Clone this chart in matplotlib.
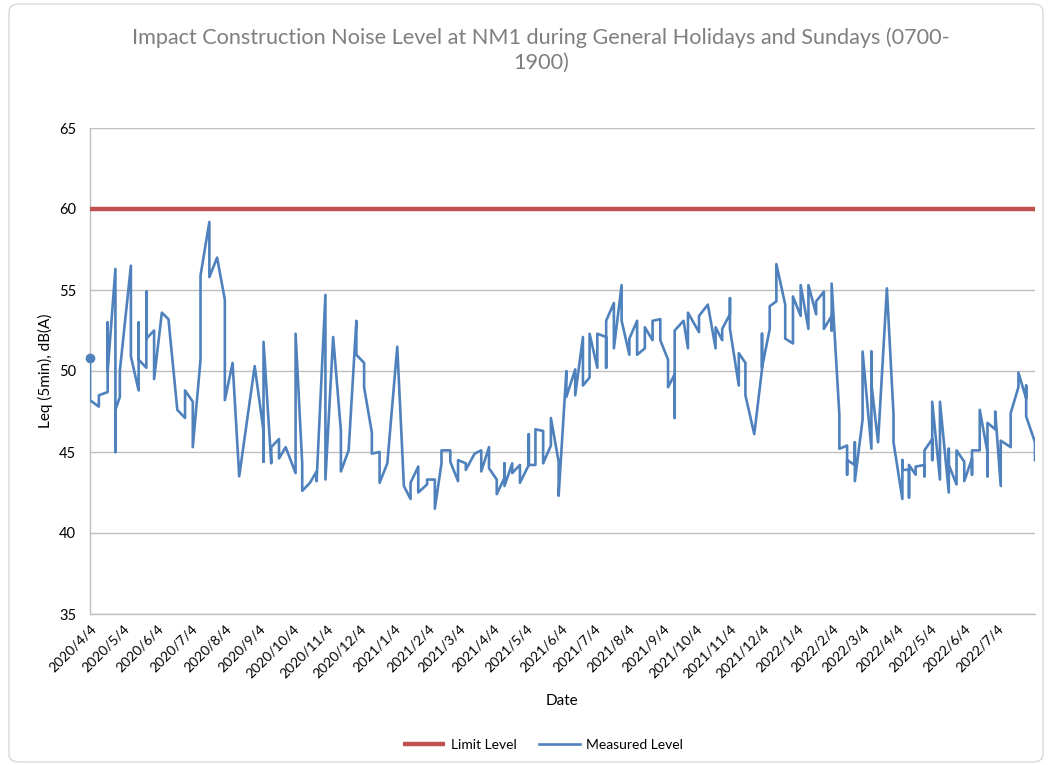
import matplotlib
matplotlib.use("Agg")
import matplotlib.pyplot as plt
from matplotlib.patches import FancyBboxPatch
import pandas as pd

plt.rcParams['font.family'] = ['Lato', 'DejaVu Sans']

title_text = "Impact Construction Noise Level at NM1 during General Holidays and Sundays (0700-\n1900)"
y_label = "Leq (5min), dB(A)"
x_label = "Date"
limit_label = "Limit Level"
measured_label = "Measured Level"
limit_level = 60
y_ticks = [35, 40, 45, 50, 55, 60, 65]

# Measurement dates; each date may have several readings (drawn as vertical steps)
dates = [
    "2020-04-04", "2020-04-12", "2020-04-20", "2020-04-27", "2020-05-01", "2020-05-11",
    "2020-05-18", "2020-05-25", "2020-06-01", "2020-06-08", "2020-06-14", "2020-06-22",
    "2020-06-29", "2020-07-06", "2020-07-13", "2020-07-21", "2020-07-28", "2020-08-04",
    "2020-08-11", "2020-08-17", "2020-08-31", "2020-09-08", "2020-09-15", "2020-09-22",
    "2020-09-28", "2020-10-07", "2020-10-13", "2020-10-20", "2020-10-26", "2020-11-03",
    "2020-11-10", "2020-11-17", "2020-11-24", "2020-12-01", "2020-12-08", "2020-12-15",
    "2020-12-22", "2020-12-29", "2021-01-07", "2021-01-13", "2021-01-19", "2021-01-26",
    "2021-02-03", "2021-02-10", "2021-02-16", "2021-02-24", "2021-03-03", "2021-03-10",
    "2021-03-18", "2021-03-24", "2021-03-31", "2021-04-07", "2021-04-14", "2021-04-21",
    "2021-04-28", "2021-05-06", "2021-05-12", "2021-05-19", "2021-05-26", "2021-06-02",
    "2021-06-09", "2021-06-17", "2021-06-24", "2021-06-30", "2021-07-07", "2021-07-15",
    "2021-07-22", "2021-07-29", "2021-08-05", "2021-08-12", "2021-08-19", "2021-08-26",
    "2021-09-02", "2021-09-09", "2021-09-15", "2021-09-23", "2021-09-27", "2021-10-07",
    "2021-10-15", "2021-10-22", "2021-10-28", "2021-11-04", "2021-11-12", "2021-11-18",
    "2021-11-26", "2021-12-03", "2021-12-10", "2021-12-16", "2021-12-24", "2021-12-31",
    "2022-01-07", "2022-01-14", "2022-01-21", "2022-01-28", "2022-02-04", "2022-02-11",
    "2022-02-18", "2022-02-25", "2022-03-04", "2022-03-12", "2022-03-18", "2022-03-26",
    "2022-04-01", "2022-04-09", "2022-04-15", "2022-04-21", "2022-04-29", "2022-05-06",
    "2022-05-13", "2022-05-21", "2022-05-28", "2022-06-04", "2022-06-11", "2022-06-18",
    "2022-06-25", "2022-07-02", "2022-07-07", "2022-07-16", "2022-07-23", "2022-07-30",
    "2022-08-07",
]

levels = [
    [50.8, 48.2], [47.8, 48.5], [48.7, 53.0, 50.0], [56.3, 45.0, 47.6], [48.4, 50.0], [56.5, 50.9],
    [48.8, 53.0, 50.7], [50.2, 54.9, 52.0], [52.5, 49.5], [53.6], [53.2], [47.6],
    [47.1, 48.8], [48.1, 45.3], [50.7, 55.9], [59.2, 55.8], [57.0], [54.4, 48.2],
    [50.5], [43.5], [50.3], [46.3, 44.4, 51.8], [44.3, 45.3], [45.8, 44.6],
    [45.3], [43.7, 52.3], [44.3, 42.6], [43.1], [43.8, 43.2], [54.7, 43.3],
    [52.1], [46.3, 43.8], [45.1], [53.1, 51.0], [50.5, 49.0], [46.2, 44.9],
    [45.0, 43.1], [44.3], [51.5], [42.9], [42.1, 43.1], [44.1, 42.5],
    [43.0, 43.3], [43.3, 41.5], [44.3, 45.1], [45.1, 44.4], [43.2, 44.5], [44.3, 43.9],
    [44.9], [45.1, 43.8], [45.3, 44.0], [43.3, 42.4], [43.4, 44.3, 42.9], [44.3, 43.7],
    [44.2, 43.1], [44.2, 46.1, 44.2], [44.2, 46.4], [46.3, 44.3], [45.4, 47.1], [44.4, 42.3],
    [50.0, 48.4], [50.1, 48.5], [52.1, 49.1], [49.6, 52.3], [50.2, 52.3], [52.1, 50.2, 53.1],
    [54.2, 51.4], [55.3, 53.1], [51.0, 52.0], [53.1, 51.0], [51.4, 52.7], [51.9, 53.1],
    [53.2, 51.9], [50.7, 49.0], [49.8, 47.1, 52.5], [53.1], [51.4, 53.6], [52.4, 53.4],
    [54.1], [51.4, 52.7], [51.9, 52.6], [53.5, 54.5, 52.6], [49.1, 51.1], [50.5, 48.5],
    [46.1], [50.1, 52.3, 50.2], [52.6, 54.0], [54.3, 56.6], [54.1, 52.0], [51.7, 54.6],
    [53.4, 55.3], [52.6, 55.3], [53.5, 54.3], [54.9, 52.6], [53.4, 52.5, 55.4], [47.3, 45.2],
    [45.4, 43.6, 44.5], [44.2, 45.6, 43.2], [47.0, 51.2], [45.2, 51.2, 49.2], [45.6], [55.1],
    [47.3, 45.6], [42.1, 44.5, 43.9], [43.9, 42.2, 44.2], [43.6, 44.1], [44.2, 43.5, 45.1], [45.8, 44.5, 48.1],
    [43.3, 48.1], [42.5, 45.2, 44.2], [43.0, 45.1], [44.4, 43.2], [44.6, 43.6, 45.1], [45.1, 47.6],
    [45.0, 43.5, 46.8], [46.4, 47.5], [42.9, 45.7], [45.3, 47.4], [49.0, 49.9], [48.3, 49.1, 47.2],
    [45.6, 44.5],
]

x_start = "2020-04-04"
x_end = "2022-08-07"
tick_start = "2020-04-04"
tick_end = "2022-07-04"

# flatten
flat_dates = []
flat_levels = []
for d, vals in zip(dates, levels):
    for v in vals:
        flat_dates.append(pd.Timestamp(d))
        flat_levels.append(v)

fig = plt.figure(figsize=(10.49, 7.65), dpi=100)
ax = fig.add_axes([90/1049, 1 - 614/765, (1035 - 90)/1049, (614 - 128)/765])

red = "#C0504D"
blue = "#4F81BD"
grid_c = "#BFBFBF"

xs = [pd.Timestamp(x_start), pd.Timestamp(x_end)]
ax.plot(xs, [limit_level, limit_level], color=red, lw=3.2, solid_capstyle='butt', label=limit_label, zorder=3)
ax.plot(flat_dates, flat_levels, color=blue, lw=1.9, label=measured_label, zorder=4)
ax.plot(flat_dates[:1], flat_levels[:1], marker='o', ms=6, color=blue, zorder=5, clip_on=False)

ax.set_xlim(pd.Timestamp(x_start), pd.Timestamp(x_end))
ax.set_ylim(35, 65)
ax.set_yticks(y_ticks)
ticks = pd.date_range(tick_start, tick_end, freq=pd.DateOffset(months=1))
ax.set_xticks(ticks)
ax.set_xticklabels([f"{t.year}/{t.month}/{t.day}" for t in ticks], rotation=45,
                   ha='right', va='top', rotation_mode='anchor', fontsize=10, color='black')
ax.tick_params(axis='x', length=0, pad=6)
ax.tick_params(axis='y', length=0, pad=10, labelsize=10.5, labelcolor='black')

ax.grid(axis='y', color=grid_c, lw=1)
ax.set_axisbelow(True)
for s in ['top', 'right']:
    ax.spines[s].set_visible(False)
ax.spines['left'].set_color(grid_c)
ax.spines['bottom'].set_color(grid_c)
ax.spines['left'].set_linewidth(1)
ax.spines['bottom'].set_linewidth(1)

ax.set_ylabel(y_label, fontsize=11, color='black')
ax.set_xlabel(x_label, fontsize=11, color='black')
ax.xaxis.set_label_coords((562 - 90)/945, -(694 - 614)/486)
ax.yaxis.set_label_coords(-(90 - 53)/945, 0.5)

fig.text(541/1049, 1 - 50/765, title_text, ha='center', va='center', fontsize=15.6,
         color='#7F7F7F', linespacing=1.3, multialignment='center')

handles, labs = ax.get_legend_handles_labels()
leg = fig.legend(handles[:2], labs[:2], loc='center', bbox_to_anchor=(543/1049, 1 - 745/765),
                 ncol=2, frameon=False, fontsize=10, handlelength=3.0, columnspacing=1.6,
                 handletextpad=0.4)

border = FancyBboxPatch((9/1049, 3/765), (1043 - 9)/1049, (761 - 3)/765,
                        boxstyle="round,pad=0,rounding_size=0.01", transform=fig.transFigure,
                        fill=False, edgecolor='#D9D9D9', lw=1)
fig.patches.append(border)

fig.savefig("out.png", dpi=100)
